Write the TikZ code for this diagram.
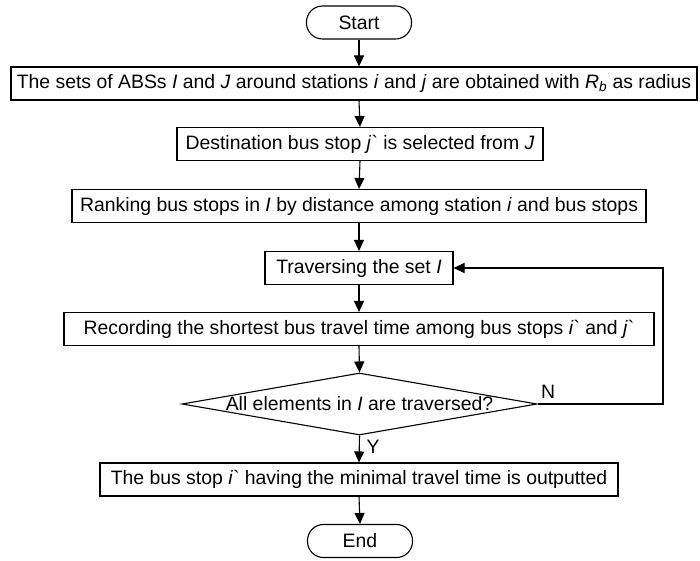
\documentclass[tikz,border=0pt]{standalone}
\usepackage{fontspec}
\setmainfont{Liberation Sans}
\usetikzlibrary{positioning,shapes.geometric,arrows.meta}
\newcommand{\grv}{\textasciigrave}
\tikzset{
  fcbox/.style={rectangle, draw=black, line width=1.1pt, minimum height=33pt, inner sep=0pt, font=\fontsize{19.4}{23}\selectfont},
  fcterm/.style={fcbox, rounded corners=16pt, minimum width=105pt},
  fcdec/.style={diamond, draw=black, line width=1.1pt, inner sep=0pt, minimum width=355pt, minimum height=62pt},
  fctxt/.style={font=\fontsize{19.4}{23}\selectfont, inner sep=0pt},
  fcarr/.style={draw=black, line width=1.1pt, -{Triangle[length=11pt,width=10pt]}}
}

\begin{document}
\begin{tikzpicture}[x=1pt,y=-1pt]
  \useasboundingbox (0,0) rectangle (700,561);
  % terminals
  \node[fcterm] (start) at (359,22.5) {Start};
  \node[fcterm] (fin) at (360,541) {End};
  % boxes
  \node[fcbox, minimum width=686pt] (sets) at (354,83.5) {The sets of ABSs \textit{I} and \textit{J} around stations \textit{i} and \textit{j} are obtained with \textit{R}\textsubscript{\textit{b}} as radius};
  \node[fcbox, minimum width=366pt] (dest) at (360,144) {Destination bus stop \textit{j}\grv{} is selected from \textit{J}};
  \node[fcbox, minimum width=574pt] (rank) at (359,206) {Ranking bus stops in \textit{I} by distance among station \textit{i} and bus stops};
  \node[fcbox, minimum width=188pt] (trav) at (359,268) {Traversing the set \textit{I}};
  \node[fcbox, minimum width=590pt] (rec) at (359,329) {Recording the shortest bus travel time among bus stops \textit{i}\grv{} and \textit{j}\grv};
  \node[fcdec] (chk) at (359.5,404) {};
  \node[fctxt] (chktxt) at (chk.center) {All elements in \textit{I} are traversed?};
  \node[fcbox, minimum width=518pt] (outp) at (359,479.5) {The bus stop \textit{i}\grv{} having the minimal travel time is outputted};
  % labels
  \node[fctxt] (yes) at (373,447) {Y};
  \node[fctxt] (no) at (548,392) {N};
  \coordinate (loop) at (663,268);
  % arrows
  \draw[fcarr] (start.south) -- (start.south |- sets.north);
  \draw[fcarr] (start.south |- sets.south) -- (dest.north);
  \draw[fcarr] (dest.south) -- (rank.north);
  \draw[fcarr] (rank.south) -- (trav.north);
  \draw[fcarr] (trav.south) -- (rec.north);
  \draw[fcarr] (rec.south) -- (chk.north);
  \draw[fcarr] (chk.south) -- (outp.north);
  \draw[fcarr] (outp.south) -- (fin.north);
  \draw[fcarr] (chk.east) -| (loop) -- (trav.east);
\end{tikzpicture}
\end{document}
